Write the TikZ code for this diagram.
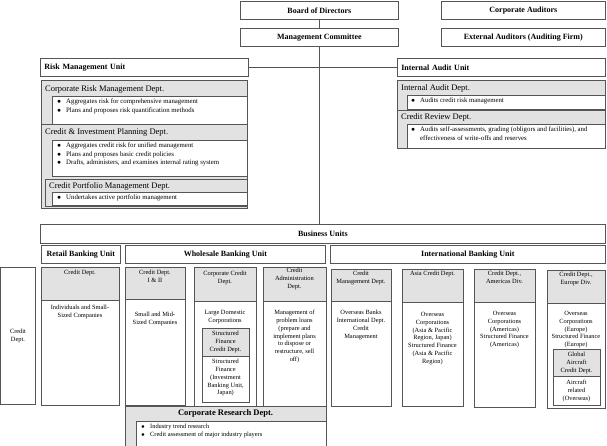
\documentclass[tikz,border=0pt]{standalone}
\usepackage{fontspec}
\setmainfont{Liberation Serif}
\usetikzlibrary{positioning}
\definecolor{hdr}{RGB}{226,226,226}
\definecolor{edge}{RGB}{85,85,85}
\newcommand{\itm}[1]{\makebox[9pt][l]{$\bullet$}#1}

\begin{document}
\begin{tikzpicture}[x=1pt,y=-1pt]

	\tikzstyle{unit}=[draw=edge,line width=0.7pt,anchor=north west,inner sep=0pt,font=\bfseries\fontsize{8}{9.5}\selectfont]
	\tikzstyle{dept}=[anchor=west,inner sep=0pt,font=\fontsize{8.5}{10}\selectfont]
	\tikzstyle{bul}=[anchor=north west,inner sep=0pt,align=left,font=\fontsize{6.8}{8.2}\selectfont]
	\tikzstyle{col}=[draw=edge,line width=0.6pt]
	\tikzstyle{hd}=[col,fill=hdr]
	\tikzstyle{ctext}=[anchor=north,inner sep=0pt,align=center,font=\fontsize{6.4}{7.8}\selectfont]

	\useasboundingbox (0,0) rectangle (607,446);

	% top of the chart
	\node [unit,minimum width=158,minimum height=18] (board) at (240,1)	{Board of Directors};
	\node [unit,minimum width=164,minimum height=18] (caud) at (441,1)	{Corporate Auditors};
	\node [unit,minimum width=158,minimum height=18] (mgmt) at (240,28)	{Management Committee};
	\node [unit,minimum width=164,minimum height=18] (eaud) at (441,28)	{External Auditors (Auditing Firm)};
	\node [unit,minimum width=208,minimum height=18,inner xsep=4,text width=200,align=left] (risk) at (40,58) {Risk Management Unit};
	\node [unit,minimum width=208,minimum height=18,inner xsep=4,text width=200,align=left] (audit) at (397,58) {Internal Audit Unit};

	\node [unit,minimum width=565,minimum height=19] (bu) at (40,224)	{Business Units};
	\node [unit,minimum width=79,minimum height=18] (retail) at (41,245)	{Retail Banking Unit};
	\node [unit,minimum width=200,minimum height=18] (whole) at (125,245)	{Wholesale Banking Unit};
	\node [unit,minimum width=275,minimum height=18] (intl) at (330,245)	{International Banking Unit};

	\draw [col] (board) -- (mgmt);
	\draw [col] (risk.east) -- (audit.west);
	\draw [col] (mgmt.south) -- (mgmt.south |- bu.north);

	% risk management unit
	\draw [hd] (41,80) rectangle (247,208);
	\draw [col] (41,124) -- (247,124);
	\draw [col,fill=white] (52,96) rectangle (247,124);
	\draw [col,fill=white] (52,140) rectangle (247,176);
	\draw [hd] (45,179) rectangle (247,206);
	\draw [col,fill=white] (52,192) rectangle (247,205);
	\node [dept] (crm) at (45,89)	{Corporate Risk Management Dept.};
	\node [bul] (crmb) at (57,99)	{\itm{Aggregates risk for comprehensive management}\\
		\itm{Plans and proposes risk quantification methods}};
	\node [dept] (cip) at (45,132)	{Credit \& Investment Planning Dept.};
	\node [bul] (cipb) at (57,143)	{\itm{Aggregates credit risk for unified management}\\
		\itm{Plans and proposes basic credit policies}\\
		\itm{Drafts, administers, and examines internal rating system}};
	\node [dept] (cpm) at (49,186)	{Credit Portfolio Management Dept.};
	\node [bul] (cpmb) at (57,195)	{\itm{Undertakes active portfolio management}};

	% internal audit unit
	\draw [hd] (397,80) rectangle (605,148);
	\draw [col,fill=white] (407,95) rectangle (605,109);
	\draw [col] (397,110) -- (605,110);
	\draw [col,fill=white] (407,124) rectangle (605,148);
	\node [dept] (iad) at (401,88)	{Internal Audit Dept.};
	\node [bul] (iadb) at (411,98)	{\itm{Audits credit risk management}};
	\node [dept] (crd) at (401,117)	{Credit Review Dept.};
	\node [bul] (crdb) at (411,127)	{\itm{Audits self-assessments, grading (obligors and facilities), and}\\
		\hspace{9pt}effectiveness of write-offs and reserves};

	% credit departments
	\draw [col] (0.5,267) rectangle (35,404);
	\node [ctext,anchor=center] (cd0) at (18,336)	{Credit\\Dept.};

	\draw [col] (41,267) rectangle (119,405);
	\draw [hd] (41,267) rectangle (119,300);
	\node [ctext] (cd1) at (80,270)	{Credit Dept.};
	\node [ctext] (cd1b) at (80,305)	{Individuals and Small-\\Sized Companies};

	\draw [col] (125,267) rectangle (185,405);
	\draw [hd] (125,267) rectangle (185,299);
	\node [ctext] (cd2) at (155,270)	{Credit Dept.\\I \& II};
	\node [ctext] (cd2b) at (155,312)	{Small and Mid-\\Sized Companies};

	\draw [col] (194,267) rectangle (256,406);
	\draw [hd] (194,267) rectangle (256,301);
	\node [ctext] (cd3) at (225,271)	{Corporate Credit\\Dept.};
	\node [ctext] (cd3b) at (225,310)	{Large Domestic\\Corporations};
	\draw [col] (202,328) rectangle (249,402);
	\draw [hd] (202,328) rectangle (249,356);
	\node [ctext] (sf) at (225.5,331)	{Structured\\Finance\\Credit Dept.};
	\node [ctext] (sfb) at (225.5,359)	{Structured\\Finance\\(Investment\\Banking Unit,\\Japan)};

	\draw [col] (263,267) rectangle (326,406);
	\draw [hd] (263,267) rectangle (326,301);
	\node [ctext] (cd4) at (294.5,268)	{Credit\\Administration\\Dept.};
	\node [ctext] (cd4b) at (294.5,310)	{Management of\\problem loans\\(prepare and\\implement plans\\to dispose or\\restructure, sell\\off)};

	\draw [col] (331,269) rectangle (391,406);
	\draw [hd] (331,269) rectangle (391,301);
	\node [ctext] (cd5) at (361,271)	{Credit\\Management Dept.};
	\node [ctext] (cd5b) at (361,310)	{Overseas Banks\\International Dept.\\Credit\\Management};

	\draw [col] (402,269) rectangle (463,406);
	\draw [hd] (402,269) rectangle (463,302);
	\node [ctext] (cd6) at (432.5,271)	{Asia Credit Dept.};
	\node [ctext] (cd6b) at (432.5,312)	{Overseas\\Corporations\\(Asia \& Pacific\\Region, Japan)\\Structured Finance\\(Asia \& Pacific\\Region)};

	\draw [col] (474,269) rectangle (535,407);
	\draw [hd] (474,269) rectangle (535,302);
	\node [ctext] (cd7) at (504.5,271)	{Credit Dept.,\\Americas Div.};
	\node [ctext] (cd7b) at (504.5,311)	{Overseas\\Corporations\\(Americas)\\Structured Finance\\(Americas)};

	\draw [col] (547,270) rectangle (605,408);
	\draw [hd] (547,270) rectangle (605,303);
	\node [ctext] (cd8) at (576,272)	{Credit Dept.,\\Europe Div.};
	\node [ctext] (cd8b) at (576,311)	{Overseas\\Corporations\\(Europe)\\Structured Finance\\(Europe)};
	\draw [col] (553,349) rectangle (600,405);
	\draw [hd] (553,349) rectangle (600,376);
	\node [ctext] (ga) at (576.5,352)	{Global\\Aircraft\\Credit Dept.};
	\node [ctext] (gab) at (576.5,380)	{Aircraft\\related\\(Overseas)};

	% corporate research
	\draw [hd] (125,406) rectangle (326,446);
	\draw [col,fill=white] (136,421) rectangle (326,446);
	\node [anchor=center,inner sep=0pt,font=\bfseries\fontsize{8.5}{10}\selectfont] (cr) at (225.5,413.5) {Corporate Research Dept.};
	\node [bul,font=\fontsize{6.4}{7.8}\selectfont] (crb) at (141,424)	{\itm{Industry trend research}\\
		\itm{Credit assessment of major industry players}};
\end{tikzpicture}
\end{document}
